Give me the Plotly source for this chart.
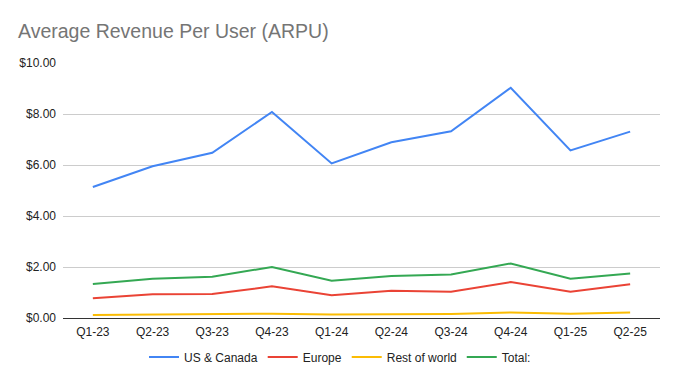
import plotly.graph_objects as go

quarters = ["Q1-23", "Q2-23", "Q3-23", "Q4-23", "Q1-24", "Q2-24", "Q3-24", "Q4-24", "Q1-25", "Q2-25"]
us_canada = [5.14, 5.95, 6.48, 8.08, 6.06, 6.89, 7.32, 9.03, 6.57, 7.31]
europe = [0.77, 0.93, 0.94, 1.24, 0.89, 1.07, 1.03, 1.41, 1.03, 1.32]
rest_of_world = [0.12, 0.14, 0.14, 0.17, 0.14, 0.15, 0.16, 0.22, 0.17, 0.22]
total = [1.33, 1.54, 1.62, 2.00, 1.46, 1.65, 1.71, 2.14, 1.54, 1.75]

series = [
    ("US & Canada", us_canada, "#4285F4"),
    ("Europe", europe, "#EA4335"),
    ("Rest of world", rest_of_world, "#FBBC04"),
    ("Total:", total, "#34A853"),
]

fig = go.Figure()
for name, vals, color in series:
    fig.add_trace(go.Scatter(x=quarters, y=vals, name=name, mode="lines",
                             line=dict(color=color, width=2)))

font_family = "Liberation Sans, Arial, sans-serif"
fig.update_layout(
    width=680, height=384,
    margin=dict(l=63, r=20, t=63, b=66),
    paper_bgcolor="white", plot_bgcolor="white",
    font=dict(family=font_family, size=12, color="#222222"),
    title=dict(text="Average Revenue Per User (ARPU)", x=18/680, xanchor="left",
               xref="container", yref="container", y=1-31/384, yanchor="middle",
               font=dict(family=font_family, size=19.5, color="#757575")),
    showlegend=True,
    legend=dict(orientation="h", xref="container", yref="container",
                x=0.5, xanchor="center", y=1-357/384, yanchor="middle",
                font=dict(size=12, color="#222222"), itemwidth=30),
    xaxis=dict(type="category", range=[-0.5, 9.5], showgrid=False, showline=True,
               linecolor="#333333", linewidth=1, ticks="", tickfont=dict(size=12),
               zeroline=False, automargin=False, ticklabelstandoff=3),
    yaxis=dict(range=[0, 10], dtick=2, tickformat="$.2f", showgrid=True,
               gridcolor="#cccccc", gridwidth=1, zeroline=False, showline=False,
               ticks="", tickfont=dict(size=12), ticklabelstandoff=6,
               automargin=False),
)

fig.write_html("out.html", config={"displayModeBar": False},
               post_script="document.body.style.margin='0';")
